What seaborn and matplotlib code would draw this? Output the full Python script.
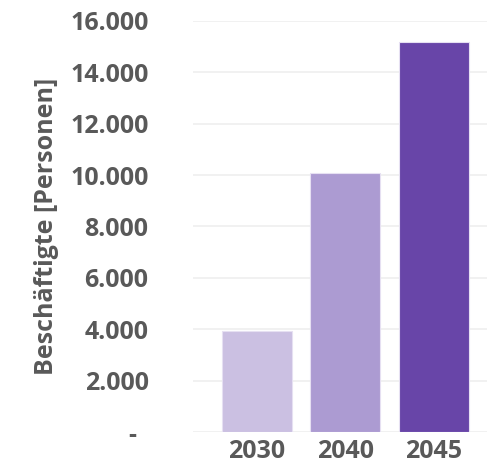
import matplotlib
matplotlib.use("Agg")
import matplotlib.pyplot as plt
import seaborn as sns
import pandas as pd
from matplotlib.ticker import FixedLocator, FixedFormatter

years = ["2030", "2040", "2045"]
values = [3950, 10100, 15200]
colors = ["#CBC0E2", "#AC9BD2", "#6845A8"]
ytick_vals = [0, 2000, 4000, 6000, 8000, 10000, 12000, 14000, 16000]
ytick_labels = ["- \u2009", "2.000", "4.000", "6.000", "8.000", "10.000", "12.000", "14.000", "16.000"]
ylabel = "Beschäftigte [Personen]"

df = pd.DataFrame({"year": years, "value": values})

sns.set_theme(style="white")
plt.rcParams["font.family"] = ["Open Sans", "DejaVu Sans"]

fig = plt.figure(figsize=(4.93, 4.66), dpi=100)
ax = fig.add_axes([193/493, 1 - 432/466, (487-193)/493, (432-21)/466])

sns.barplot(data=df, x="year", y="value", hue="year", palette=colors,
            saturation=1, width=0.79, legend=False, ax=ax,
            edgecolor="#E6E0F2", linewidth=0.8)

ax.set_ylim(0, 16000)
ax.set_xlim(-0.72, 2.6)
ax.yaxis.set_major_locator(FixedLocator(ytick_vals))
ax.yaxis.set_major_formatter(FixedFormatter(ytick_labels))
ax.grid(axis="y", color="#EFEFEF", linewidth=1.2)
ax.set_axisbelow(True)
for s in ax.spines.values():
    s.set_visible(False)
ax.tick_params(axis="both", length=0, colors="#595959", labelsize=18)
ax.tick_params(axis="y", pad=32)
ax.tick_params(axis="x", pad=5)
for lab in ax.get_yticklabels() + ax.get_xticklabels():
    lab.set_fontweight("bold")
ax.set_xlabel("")
ax.set_ylabel(ylabel, fontsize=18, fontweight="bold", color="#595959", labelpad=8)

fig.savefig("out.png", dpi=100)
